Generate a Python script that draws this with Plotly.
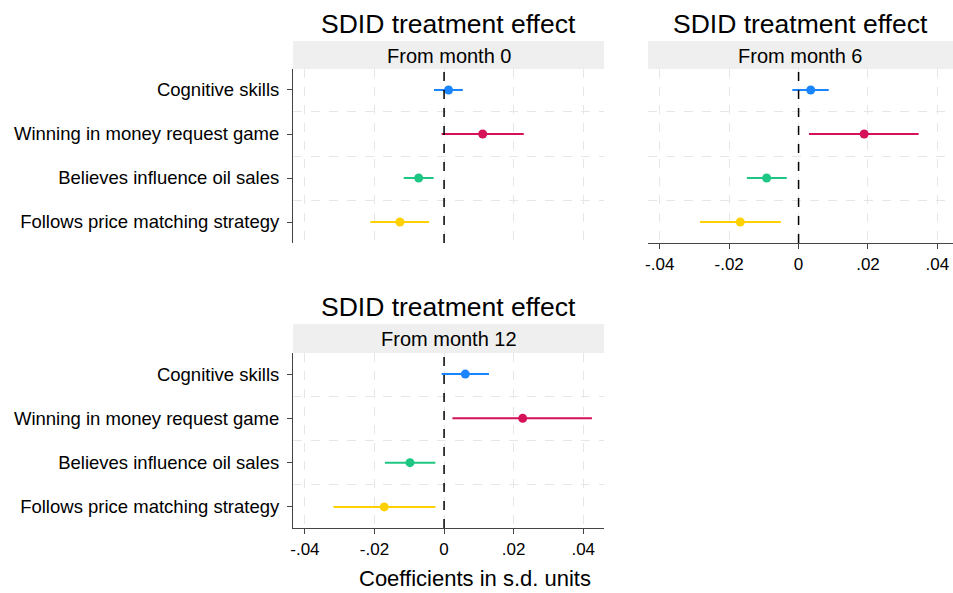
import plotly.graph_objects as go

# Outcomes, top to bottom
outcomes = [
    "Cognitive skills",
    "Winning in money request game",
    "Believes influence oil sales",
    "Follows price matching strategy",
]
colors = ["#1A85FF", "#D41159", "#1EC683", "#FFD100"]

panels = ["From month 0", "From month 6", "From month 12"]

# Point estimates and 95% CI bounds per panel (s.d. units)
est_m0 = [0.0013, 0.0111, -0.0073, -0.0127]
lo_m0 = [-0.0029, -0.0007, -0.0116, -0.0212]
hi_m0 = [0.0054, 0.0229, -0.0030, -0.0043]

est_m6 = [0.0035, 0.0189, -0.0092, -0.0168]
lo_m6 = [-0.0018, 0.0030, -0.0149, -0.0284]
hi_m6 = [0.0087, 0.0346, -0.0034, -0.0051]

est_m12 = [0.0061, 0.0226, -0.0098, -0.0172]
lo_m12 = [-0.0007, 0.0024, -0.0170, -0.0318]
hi_m12 = [0.0129, 0.0425, -0.0025, -0.0025]

xtick_vals = [-0.04, -0.02, 0, 0.02, 0.04]
xtick_text = ["-.04", "-.02", "0", ".02", ".04"]

W, H = 953, 593
FONT = "Liberation Sans, Arial, Helvetica, sans-serif"

# panel boxes in pixels: (x0, x1, y_top, y_bottom, strip_top)
boxes = [
    (291, 603, 69, 243, 41),
    (647, 953, 69, 243, 41),
    (291, 603, 353, 528, 324),
]
show_xlabels = [False, True, True]
show_ylabels = [True, False, True]

data = [
    (est_m0, lo_m0, hi_m0),
    (est_m6, lo_m6, hi_m6),
    (est_m12, lo_m12, hi_m12),
]

fig = go.Figure()
layout = dict(
    width=W, height=H,
    margin=dict(l=0, r=0, t=0, b=0),
    paper_bgcolor="white", plot_bgcolor="white",
    showlegend=False,
    font=dict(family=FONT, color="#000000"),
)
shapes = []
annotations = []

for i, (box, (est, lo, hi)) in enumerate(zip(boxes, data)):
    x0, x1, yt, yb, st = box
    k = "" if i == 0 else str(i + 1)
    xa, ya = "x" + k, "y" + k
    for j, name in enumerate(outcomes):
        fig.add_trace(go.Scatter(
            x=[est[j]], y=[j], xaxis=xa, yaxis=ya, mode="markers",
            marker=dict(color=colors[j], size=9),
            error_x=dict(type="data", symmetric=False,
                         array=[hi[j] - est[j]], arrayminus=[est[j] - lo[j]],
                         width=0, thickness=2, color=colors[j]),
            hoverinfo="skip",
        ))
    layout["xaxis" + k] = dict(
        domain=[x0 / W, x1 / W], anchor=ya,
        range=[-0.0434, 0.046 if i != 1 else 0.0445],
        tickvals=xtick_vals, ticktext=xtick_text,
        showticklabels=show_xlabels[i],
        ticks="outside" if show_xlabels[i] else "", ticklen=5, tickcolor="#444",
        showline=show_xlabels[i], linecolor="#444", linewidth=1.2,
        showgrid=True, gridcolor="#e6e6e6", griddash="dash", gridwidth=1,
        zeroline=False, tickfont=dict(size=17, family=FONT),
    )
    layout["yaxis" + k] = dict(
        domain=[1 - yb / H, 1 - yt / H], anchor=xa,
        range=[3.477, -0.477],
        tickvals=list(range(len(outcomes))),
        ticktext=outcomes,
        showticklabels=show_ylabels[i],
        ticks="outside" if show_ylabels[i] else "", ticklen=5, tickcolor="#444",
        ticklabelstandoff=4,
        showline=show_ylabels[i], linecolor="#444", linewidth=1.2,
        showgrid=False, zeroline=False,
        minor=dict(tickvals=[0.5, 1.5, 2.5], showgrid=True, gridcolor="#e6e6e6",
                   griddash="dash", gridwidth=1, ticks=""),
        tickfont=dict(size=18.5, family=FONT),
    )
    # reference line at zero
    shapes.append(dict(type="line", xref=xa, yref=ya + " domain",
                       x0=0, x1=0, y0=0, y1=1,
                       line=dict(color="black", width=1.5, dash="dash")))
    # facet strip
    shapes.append(dict(type="rect", xref="paper", yref="paper",
                       x0=x0 / W, x1=x1 / W, y0=1 - yt / H, y1=1 - st / H,
                       fillcolor="#efefef", line=dict(width=0), layer="below"))
    annotations.append(dict(text=panels[i], xref="paper", yref="paper",
                            x=(x0 + x1) / 2 / W, y=1 - (st + yt + 2) / 2 / H,
                            showarrow=False, xanchor="center", yanchor="middle",
                            font=dict(size=20, family=FONT, color="black")))
    annotations.append(dict(text="SDID treatment effect", xref="paper", yref="paper",
                            x=(x0 + x1) / 2 / W, y=1 - (st - 17) / H,
                            showarrow=False, xanchor="center", yanchor="middle",
                            font=dict(size=26.5, family=FONT, color="black")))

annotations.append(dict(text="Coefficients in s.d. units", xref="paper", yref="paper",
                        x=473.5 / W, y=1 - 578 / H, showarrow=False,
                        xanchor="center", yanchor="middle",
                        font=dict(size=22, family=FONT, color="black")))

layout["shapes"] = shapes
layout["annotations"] = annotations
fig.update_layout(**layout)
fig.write_html("out.html")
